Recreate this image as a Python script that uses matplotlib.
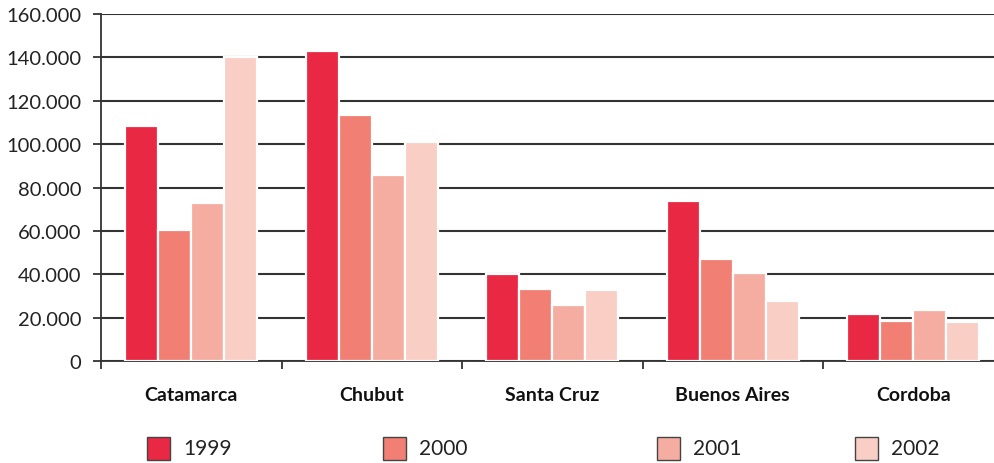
import matplotlib
matplotlib.use("Agg")
import matplotlib.pyplot as plt
from matplotlib.patches import Rectangle
import numpy as np

categories = ["Catamarca", "Chubut", "Santa Cruz", "Buenos Aires", "Cordoba"]
series_names = ["1999", "2000", "2001", "2002"]
values_1999 = [108300, 142900, 40100, 73800, 21700]
values_2000 = [60400, 113400, 33200, 47000, 18400]
values_2001 = [72800, 85800, 25800, 40600, 23500]
values_2002 = [140200, 101000, 32700, 27700, 18000]
series_values = [values_1999, values_2000, values_2001, values_2002]
colors = ["#E92844", "#F17F73", "#F6ADA1", "#F9CEC5"]
y_ticks = [0, 20000, 40000, 60000, 80000, 100000, 120000, 140000, 160000]
y_tick_labels = ["0", "20.000", "40.000", "60.000", "80.000", "100.000", "120.000", "140.000", "160.000"]

plt.rcParams['font.family'] = ['Lato', 'DejaVu Sans']

W, H = 994, 464
fig = plt.figure(figsize=(W / 100, H / 100), dpi=100)
ax = fig.add_axes([101 / W, (H - 362) / H, 902.5 / W, 347 / H])

bw = 0.183
x = np.arange(len(categories)) + 0.5
for i, (vals, c) in enumerate(zip(series_values, colors)):
    ax.bar(x + (i - 1.5) * bw, vals, width=bw, color=c, edgecolor="white",
           linewidth=1.6, zorder=3)

ax.set_xlim(0, 5)
ax.set_ylim(0, 160000)
ax.set_yticks(y_ticks)
ax.set_yticklabels(y_tick_labels, fontsize=14.5, color="#222222")
ax.yaxis.grid(True, color="#333333", linewidth=1.5, zorder=1)
ax.set_axisbelow(True)

ax.set_xticks([0, 1, 2, 3, 4, 5])
ax.set_xticklabels([])
ax.set_xticks(x, minor=True)
ax.set_xticklabels(categories, minor=True, fontsize=14, fontweight="bold", color="#111111")
ax.tick_params(axis="x", which="minor", length=0, pad=18)
ax.tick_params(axis="x", which="major", length=6, width=1.3, color="#333333", direction="out")
ax.tick_params(axis="y", length=6, width=1.3, color="#333333", direction="out", pad=8)

for s in ["top", "right"]:
    ax.spines[s].set_visible(False)
for s in ["left", "bottom"]:
    ax.spines[s].set_color("#333333")
    ax.spines[s].set_linewidth(1.3)

# legend
leg_x = [147, 383, 657, 855]
for lx, name, c in zip(leg_x, series_names, colors):
    fig.patches.append(Rectangle((lx / W, (H - 461) / H), 23 / W, 23 / H,
                                 transform=fig.transFigure, facecolor=c,
                                 edgecolor="#444444", linewidth=1.0))
    fig.text((lx + 36) / W, (H - 449) / H, name, fontsize=15, va="center",
             ha="left", color="#222222")

fig.savefig("out.png", dpi=100)
